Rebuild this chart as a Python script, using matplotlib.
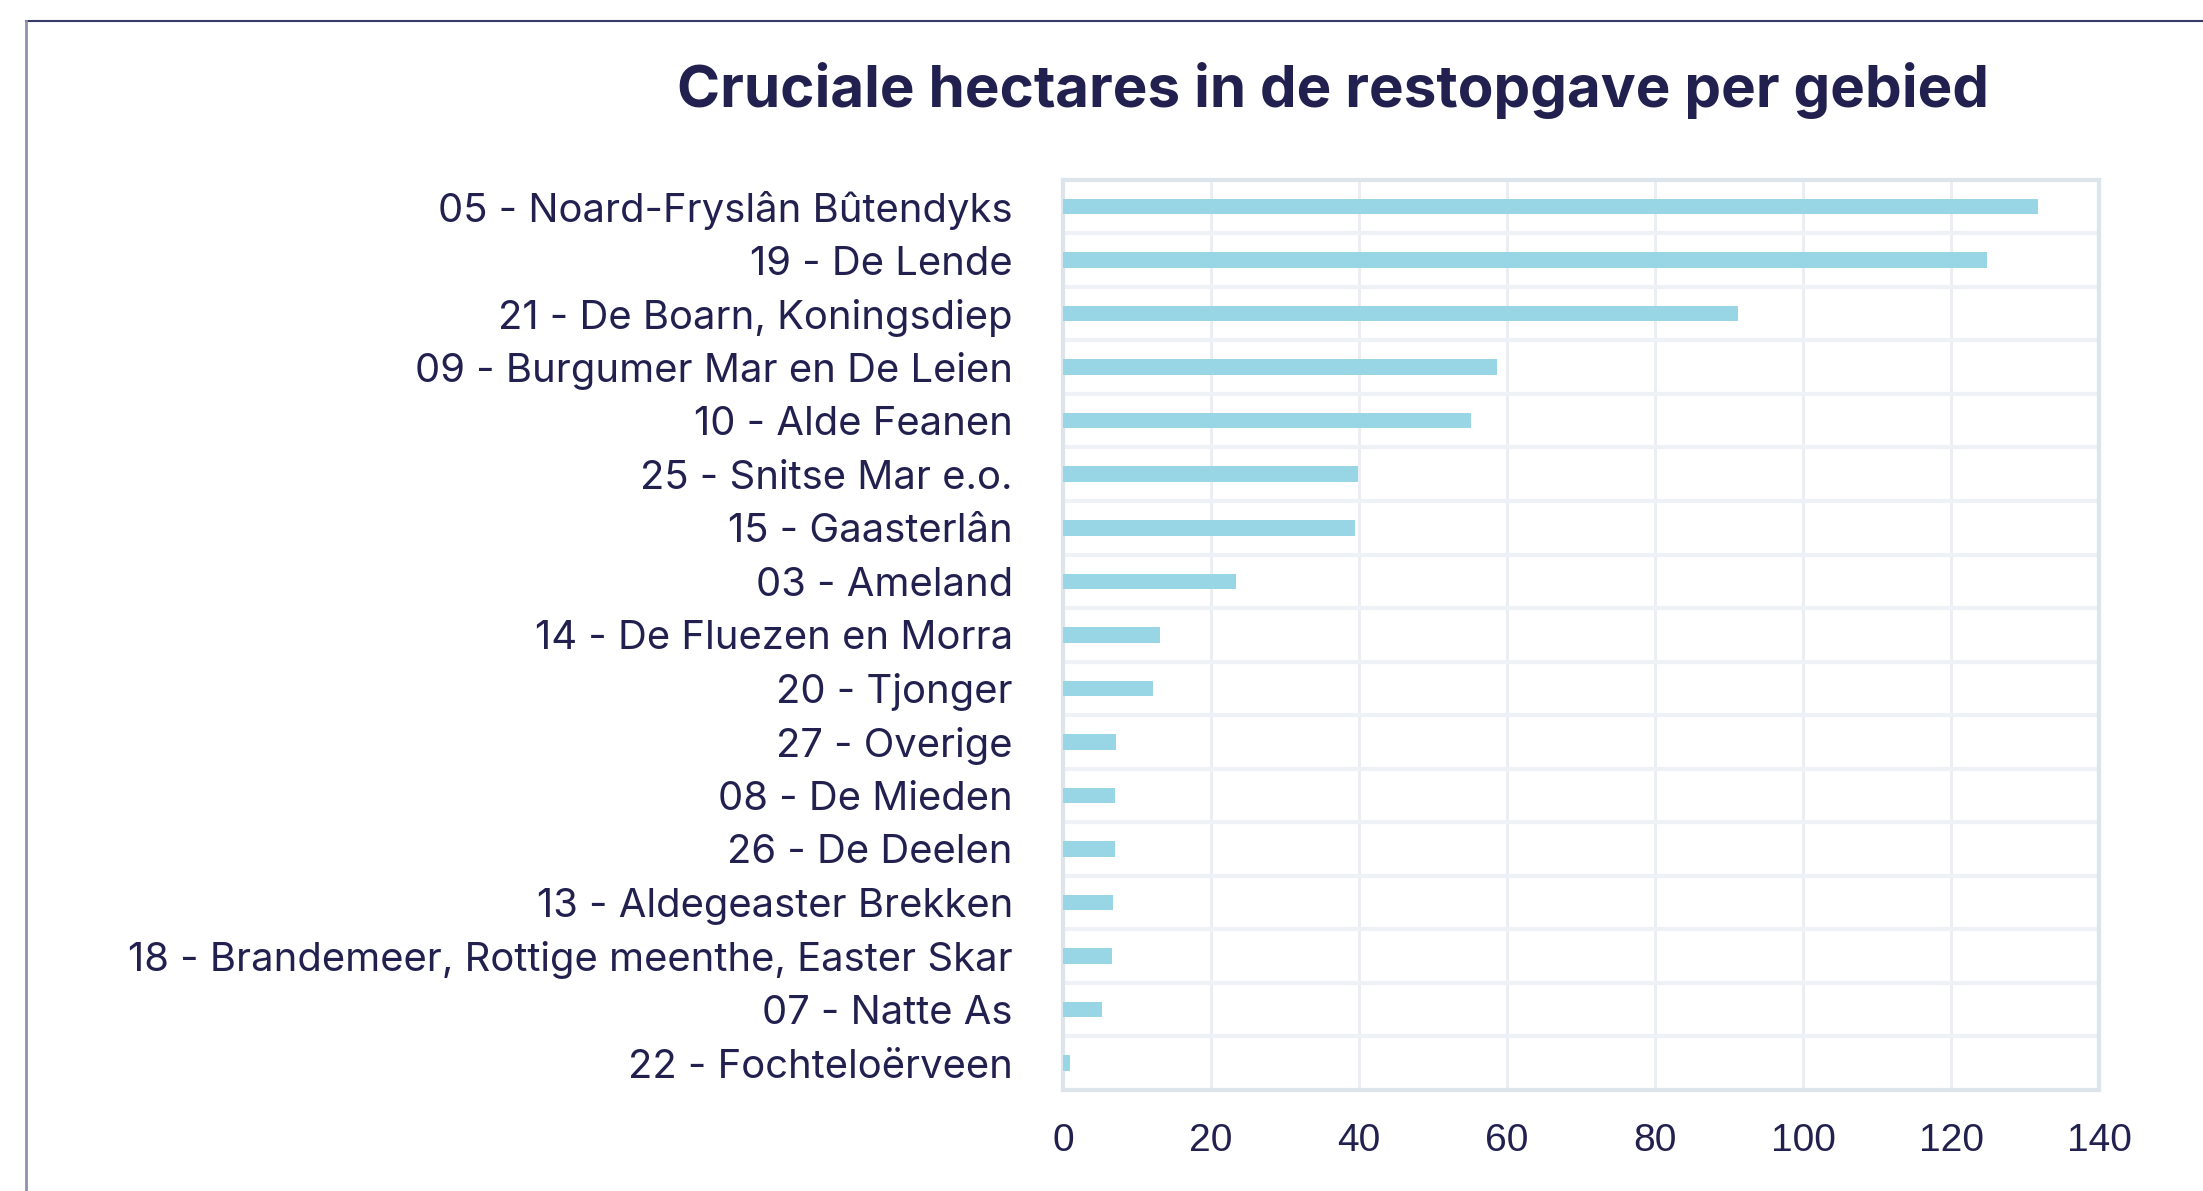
import matplotlib
matplotlib.use("Agg")
import matplotlib.pyplot as plt
from matplotlib.lines import Line2D
import numpy as np

gebieden = [
    "05 - Noard-Fryslân Bûtendyks",
    "19 - De Lende",
    "21 - De Boarn, Koningsdiep",
    "09 - Burgumer Mar en De Leien",
    "10 - Alde Feanen",
    "25 - Snitse Mar e.o.",
    "15 - Gaasterlân",
    "03 - Ameland",
    "14 - De Fluezen en Morra",
    "20 - Tjonger",
    "27 - Overige",
    "08 - De Mieden",
    "26 - De Deelen",
    "13 - Aldegeaster Brekken",
    "18 - Brandemeer, Rottige meenthe, Easter Skar",
    "07 - Natte As",
    "22 - Fochteloërveen",
]
hectares = [131.8, 124.8, 91.2, 58.7, 55.1, 39.9, 39.4, 23.4, 13.1, 12.2,
            7.2, 7.0, 7.0, 6.8, 6.6, 5.3, 0.9]
xticks = [0, 20, 40, 60, 80, 100, 120, 140]

NAVY = "#22204f"
BAR = "#98d6e6"
GRID = "#e9eef3"

fig = plt.figure(figsize=(22.03, 11.91), dpi=100)
fig.patch.set_facecolor("white")
ax = fig.add_axes([0.4825, 0.085, 0.4703, 0.764])

y = np.arange(len(gebieden))
ax.barh(y, hectares, height=0.29, color=BAR, zorder=3)

ax.set_ylim(len(gebieden) - 0.5, -0.5)
ax.set_xlim(0, 140)
ax.set_yticks(y)
ax.set_yticklabels(gebieden, fontsize=28.8, color=NAVY, family="Inter")
ax.set_xticks(xticks)
ax.set_xticklabels([str(t) for t in xticks], fontsize=28, color=NAVY,
                   family=["Liberation Sans", "DejaVu Sans"])
ax.tick_params(axis="y", length=0, pad=36)
ax.tick_params(axis="x", length=0, pad=24)

# grid: vertical at ticks, horizontal between categories
ax.xaxis.grid(True, color=GRID, linewidth=2, zorder=0)
for b in np.arange(0.5, len(gebieden) - 0.5, 1):
    ax.axhline(b, color="#eef2f6", linewidth=3, zorder=1)
ax.set_axisbelow(True)
for s in ax.spines.values():
    s.set_color("#dce4ec")
    s.set_linewidth(3)

fig.text(0.605, 0.924, "Cruciale hectares in de restopgave per gebied",
         ha="center", va="center", fontsize=42, fontweight="bold",
         color=NAVY, family="Inter")

# outer frame lines
fig.add_artist(Line2D([26 / 2203, 1], [1 - 21 / 1191, 1 - 21 / 1191],
                      color="#3a3a6a", linewidth=1.5))
fig.add_artist(Line2D([26 / 2203, 26 / 2203], [0, 1 - 21 / 1191],
                      color="#9090b0", linewidth=2))

fig.savefig("out.png", dpi=100, facecolor="white")
